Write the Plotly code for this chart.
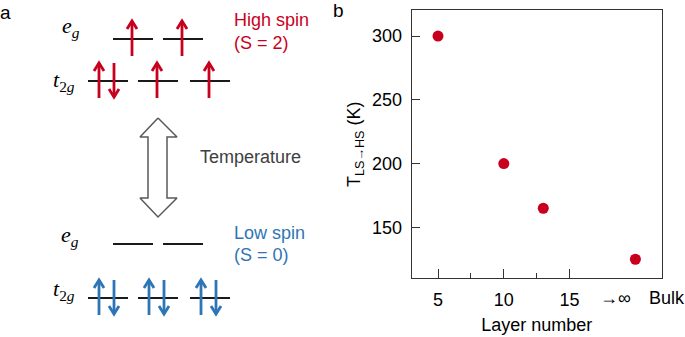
import plotly.graph_objects as go

# ---------------- panel b data ----------------
layer_number = [5, 10, 13, 20]          # 20 = position used for "Bulk"
t_transition = [300, 200, 165, 125]
x_tick_vals = [5, 10, 15]
x_tick_text = ["5", "10", "15"]
x_minor_vals = [7.5, 12.5]
y_tick_vals = [150, 200, 250, 300]
extra_x_labels = ["→∞", "Bulk"]
extra_x_pos = [18.5, 22.4]

# ---------------- panel a data ----------------
# occupation: 0 = empty, 1 = spin up, 2 = up + down
high_eg = [1, 1]
high_t2g = [2, 1, 1]
low_eg = [0, 0]
low_t2g = [2, 2, 2]
state_names = ["High spin", "Low spin"]
state_spins = ["(S = 2)", "(S = 0)"]

RED = "#C8001E"
BLUE = "#2E75B6"
GREY = "#595959"
FONT = "Liberation Sans, Arial, sans-serif"
X_RANGE = [3, 22]

fig = go.Figure()

# ---------- panel a (schematic, drawn on a hidden pixel-like axis) ----------
eg_x = [133, 183]
t2g_x = [108, 158, 210]
half = 20
levels = [
    (high_eg, eg_x, 39, RED),
    (high_t2g, t2g_x, 81, RED),
    (low_eg, eg_x, 244, BLUE),
    (low_t2g, t2g_x, 298, BLUE),
]


def arrow_path(x, y_from, y_to, hw=5, hh=8):
    d = 1 if y_to > y_from else -1
    return ([x, x, None, x - hw, x, x + hw],
            [y_from, y_to, None, y_to - d * hh, y_to, y_to - d * hh])


for occ, xs, y0, col in levels:
    lx, ly = [], []
    for xc in xs:
        lx += [xc - half, xc + half, None]
        ly += [y0, y0, None]
    fig.add_trace(go.Scatter(x=lx, y=ly, mode="lines", xaxis="x2", yaxis="y2",
                             line=dict(color="#1a1a1a", width=2),
                             hoverinfo="skip", showlegend=False))
    ax, ay = [], []
    for n, xc in zip(occ, xs):
        if n == 1:
            px, py = arrow_path(xc - 1, y0 + 17, y0 - 18)
            ax += px + [None]; ay += py + [None]
        elif n == 2:
            px, py = arrow_path(xc - 9, y0 + 17, y0 - 18)
            ax += px + [None]; ay += py + [None]
            px, py = arrow_path(xc + 6, y0 - 18, y0 + 16)
            ax += px + [None]; ay += py + [None]
    if ax:
        fig.add_trace(go.Scatter(x=ax, y=ay, mode="lines", xaxis="x2", yaxis="y2",
                                 line=dict(color=col, width=2.8),
                                 hoverinfo="skip", showlegend=False))

# hollow double arrow (temperature)
bx = [158, 177, 167, 167, 177, 158, 140, 148, 148, 140, 158]
by = [118, 137, 137, 198, 198, 217, 198, 198, 137, 137, 118]
fig.add_trace(go.Scatter(x=bx, y=by, mode="lines", xaxis="x2", yaxis="y2",
                         fill="toself", fillcolor="white",
                         line=dict(color=GREY, width=1.5),
                         hoverinfo="skip", showlegend=False))

# ---------- panel b scatter ----------
fig.add_trace(go.Scatter(x=layer_number, y=t_transition, mode="markers",
                         marker=dict(color=RED, size=11),
                         showlegend=False, cliponaxis=False))

ann = []
serif = "Liberation Serif, DejaVu Serif, serif"
for txt, x, y in [("<i>e</i><sub><i>g</i></sub>", 71, 27),
                  ("<i>t</i><sub>2<i>g</i></sub>", 64, 81),
                  ("<i>e</i><sub><i>g</i></sub>", 70, 236),
                  ("<i>t</i><sub>2<i>g</i></sub>", 64, 290)]:
    ann.append(dict(text=txt, x=x, y=y, xref="x2", yref="y2", showarrow=False,
                    font=dict(family=serif, size=22, color="black")))
for i, (col, y1, y2) in enumerate([(RED, 20, 43), (BLUE, 233, 255)]):
    ann.append(dict(text=state_names[i], x=232, y=y1, xref="x2", yref="y2",
                    xanchor="left", showarrow=False,
                    font=dict(family=FONT, size=18, color=col)))
    ann.append(dict(text=state_spins[i], x=232, y=y2, xref="x2", yref="y2",
                    xanchor="left", showarrow=False,
                    font=dict(family=FONT, size=18, color=col)))
ann.append(dict(text="Temperature", x=198, y=157, xref="x2", yref="y2",
                xanchor="left", showarrow=False,
                font=dict(family=FONT, size=18, color="#404040")))
ann.append(dict(text="a", x=5, y=12, xref="x2", yref="y2", showarrow=False,
                font=dict(family=FONT, size=19, color="black")))
ann.append(dict(text="b", x=338, y=10, xref="x2", yref="y2", showarrow=False,
                font=dict(family=FONT, size=19, color="black")))
for txt, xp in zip(extra_x_labels, extra_x_pos):
    frac = (xp - X_RANGE[0]) / (X_RANGE[1] - X_RANGE[0])
    ann.append(dict(text=txt, x=frac, y=298, xref="x domain", yref="y2",
                    xanchor="center", yanchor="middle", showarrow=False,
                    font=dict(family=FONT, size=18, color="black")))

axis_common = dict(showline=True, mirror=True, linecolor="#333333", linewidth=1.3,
                   ticks="inside", tickcolor="#333333", showgrid=False,
                   zeroline=False, tickfont=dict(family=FONT, size=18, color="black"))

fig.update_layout(
    width=685, height=337,
    margin=dict(l=0, r=0, t=0, b=0),
    paper_bgcolor="white", plot_bgcolor="rgba(0,0,0,0)",
    font=dict(family=FONT),
    xaxis=dict(domain=[0.601, 0.966], range=X_RANGE, tickvals=x_tick_vals,
               ticktext=x_tick_text, ticklen=9, tickwidth=1.3,
               minor=dict(tickvals=x_minor_vals, ticklen=5, ticks="inside",
                          tickcolor="#333333", tickwidth=1.3),
               ticklabelstandoff=5,
               title=dict(text="Layer number", standoff=9,
                          font=dict(family=FONT, size=18, color="black")),
               **axis_common),
    yaxis=dict(domain=[0.174, 0.970], range=[110, 320.4], tickvals=y_tick_vals,
               ticklen=8, tickwidth=1.3, ticklabelstandoff=5,
               title=dict(text="T<sub>LS→HS</sub> (K)", standoff=6,
                          font=dict(family=FONT, size=18, color="black")),
               **axis_common),
    xaxis2=dict(domain=[0, 1], range=[0, 685], visible=False, anchor="y2"),
    yaxis2=dict(domain=[0, 1], range=[337, 0], visible=False, anchor="x2"),
    annotations=ann,
)

fig.write_html("out.html", config={"displayModeBar": False},
               post_script="document.body.style.margin='0';document.body.style.overflow='hidden';")
